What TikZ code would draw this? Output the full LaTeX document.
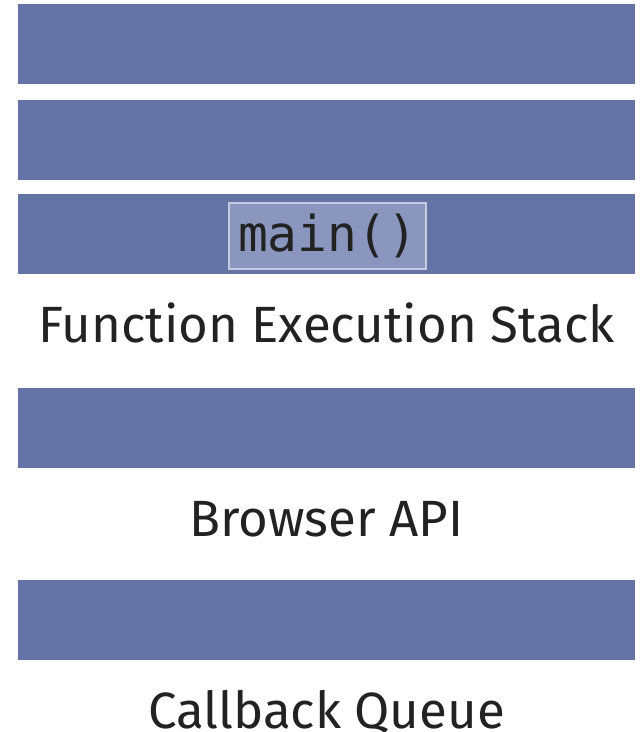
\documentclass[tikz,border=0pt]{standalone}
\usepackage{fontspec}
\setmainfont{Fira Sans}
\setmonofont{DejaVu Sans Mono}
\usetikzlibrary{positioning}
\definecolor{slotblue}{HTML}{6373A5}
\definecolor{callfill}{HTML}{8A96BE}
\definecolor{callrule}{HTML}{C5CBE0}
\definecolor{ink}{HTML}{222222}

\begin{document}
\begin{tikzpicture}[x=1pt,y=1pt,
  slot/.style={fill=slotblue,minimum width=617pt,minimum height=80pt,inner sep=0pt,anchor=north west},
  title/.style={text=ink,font=\fontsize{51}{56}\selectfont,anchor=base},
  call/.style={fill=callfill,draw=callrule,line width=1.5pt,minimum width=197pt,minimum height=66pt,inner sep=0pt,text=ink,font=\ttfamily\fontsize{49.5}{52}\selectfont}]
\useasboundingbox (0,0) rectangle (640,732);
% stack slots
\node[slot] (stack_1) at (18,728) {};
\node[slot] (stack_2) at (18,632) {};
\node[slot] (stack_3) at (18,538) {};
\node[call] (main) at (327.5,496) {main()};
\node[title] (stack_label) at (326.5,389) {Function Execution Stack};
% browser api
\node[slot] (api) at (18,344) {};
\node[title] (api_label) at (326.5,195) {Browser API};
% callback queue
\node[slot] (queue) at (18,152) {};
\node[title] (queue_label) at (326.5,4) {Callback Queue};
\end{tikzpicture}
\end{document}
